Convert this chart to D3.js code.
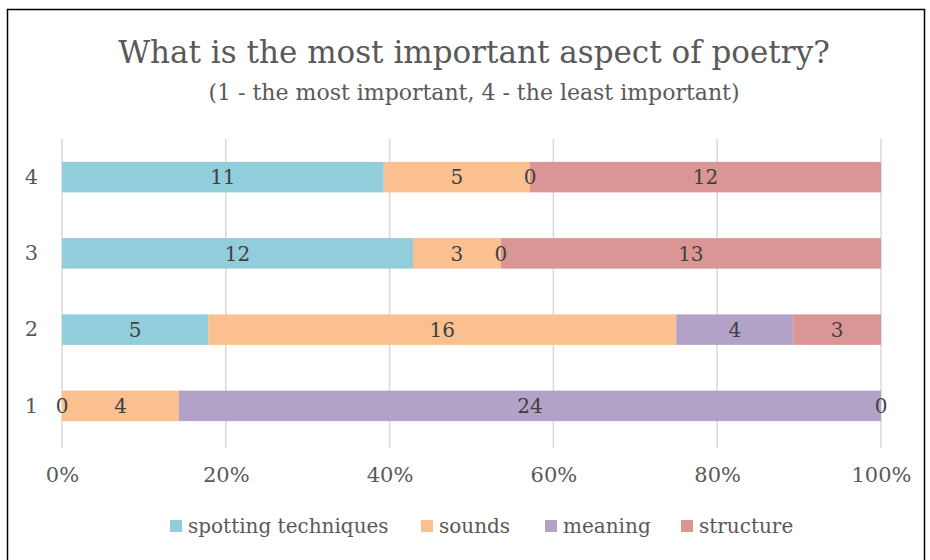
<!DOCTYPE html>
<html>
<head>
<meta charset="utf-8">
<script src="https://cdn.jsdelivr.net/npm/d3@7"></script>
<style>
  body { margin: 0; background: #fff; }
  svg { display: block; font-family: "DejaVu Serif", serif; }
</style>
</head>
<body>
<div id="chart"></div>
<script>
// data
const ranks = ["1", "2", "3", "4"];
const series = ["spotting techniques", "sounds", "meaning", "structure"];
const spotting = [0, 5, 12, 11];
const sounds = [4, 16, 3, 5];
const meaning = [24, 4, 0, 0];
const structure = [0, 3, 13, 12];
const colors = ["#92cddc", "#fac090", "#b3a2c7", "#d99694"];
const ticks = [0, 0.2, 0.4, 0.6, 0.8, 1];

const rows = ranks.map((r, i) => ({
  rank: r,
  "spotting techniques": spotting[i],
  sounds: sounds[i],
  meaning: meaning[i],
  structure: structure[i],
}));

const W = 930, H = 560;
const margin = { top: 139, right: 49, bottom: 112, left: 62 };
const width = W - margin.left - margin.right,
  height = 305;

const svg = d3.select("#chart").append("svg")
  .attr("width", W).attr("height", H);

// chart border
svg.append("rect")
  .attr("x", 7.5).attr("y", 9.5)
  .attr("width", 917).attr("height", 570)
  .attr("fill", "none").attr("stroke", "#000").attr("stroke-width", 1.5);

// title
svg.append("text")
  .attr("x", 474).attr("y", 63)
  .attr("text-anchor", "middle")
  .attr("fill", "#595959")
  .style("font-size", "31px")
  .text("What is the most important aspect of poetry?");
svg.append("text")
  .attr("x", 474).attr("y", 100)
  .attr("text-anchor", "middle")
  .attr("fill", "#595959")
  .style("font-size", "22px")
  .text("(1 - the most important, 4 - the least important)");

const g = svg.append("g")
  .attr("transform", `translate(${margin.left},${margin.top})`);

const x = d3.scaleLinear().domain([0, 1]).range([0, width]);
const y = d3.scaleBand().domain(ranks.slice().reverse()).range([0, height])
  .paddingInner(0.6).paddingOuter(0.3);

// gridlines
g.append("g").selectAll("line").data(ticks).join("line")
  .attr("x1", d => x(d)).attr("x2", d => x(d))
  .attr("y1", 0).attr("y2", height + 4)
  .attr("stroke", "#d9d9d9").attr("stroke-width", 1.5);

// stacked, normalised
const stack = d3.stack().keys(series).offset(d3.stackOffsetExpand);
const layers = stack(rows);
const color = d3.scaleOrdinal().domain(series).range(colors);

layers.forEach(layer => {
  g.append("g").attr("fill", color(layer.key))
    .selectAll("rect").data(layer).join("rect")
    .attr("x", d => x(d[0]))
    .attr("y", d => y(d.data.rank))
    .attr("width", d => x(d[1]) - x(d[0]))
    .attr("height", y.bandwidth());
});

// value labels on top of every segment
layers.forEach(layer => {
  g.append("g").selectAll("text").data(layer).join("text")
    .attr("x", d => x((d[0] + d[1]) / 2))
    .attr("y", d => y(d.data.rank) + y.bandwidth() / 2)
    .attr("dy", "0.36em")
    .attr("text-anchor", "middle")
    .attr("fill", "#404040")
    .style("font-size", "20px")
    .text(d => d.data[layer.key]);
});

// axes
const xAxis = g.append("g")
  .attr("transform", `translate(0,${height + 4})`)
  .call(d3.axisBottom(x).tickValues(ticks).tickFormat(d3.format(".0%")).tickSize(0).tickPadding(19));
xAxis.select(".domain").remove();
xAxis.selectAll("text").attr("fill", "#595959").style("font-size", "21px")
  .style("font-family", "DejaVu Serif");

const yAxis = g.append("g")
  .call(d3.axisLeft(y).tickSize(0).tickPadding(24));
yAxis.select(".domain").remove();
yAxis.selectAll("text").attr("fill", "#595959").style("font-size", "21px")
  .style("font-family", "DejaVu Serif");

// legend
const legendX = [170, 421, 545, 681];
const legend = svg.append("g");
series.forEach((s, i) => {
  legend.append("rect")
    .attr("x", legendX[i]).attr("y", 520)
    .attr("width", 12).attr("height", 12)
    .attr("fill", colors[i]);
  legend.append("text")
    .attr("x", legendX[i] + 18).attr("y", 533)
    .attr("fill", "#595959")
    .style("font-size", "20px")
    .text(s);
});
</script>
</body>
</html>
